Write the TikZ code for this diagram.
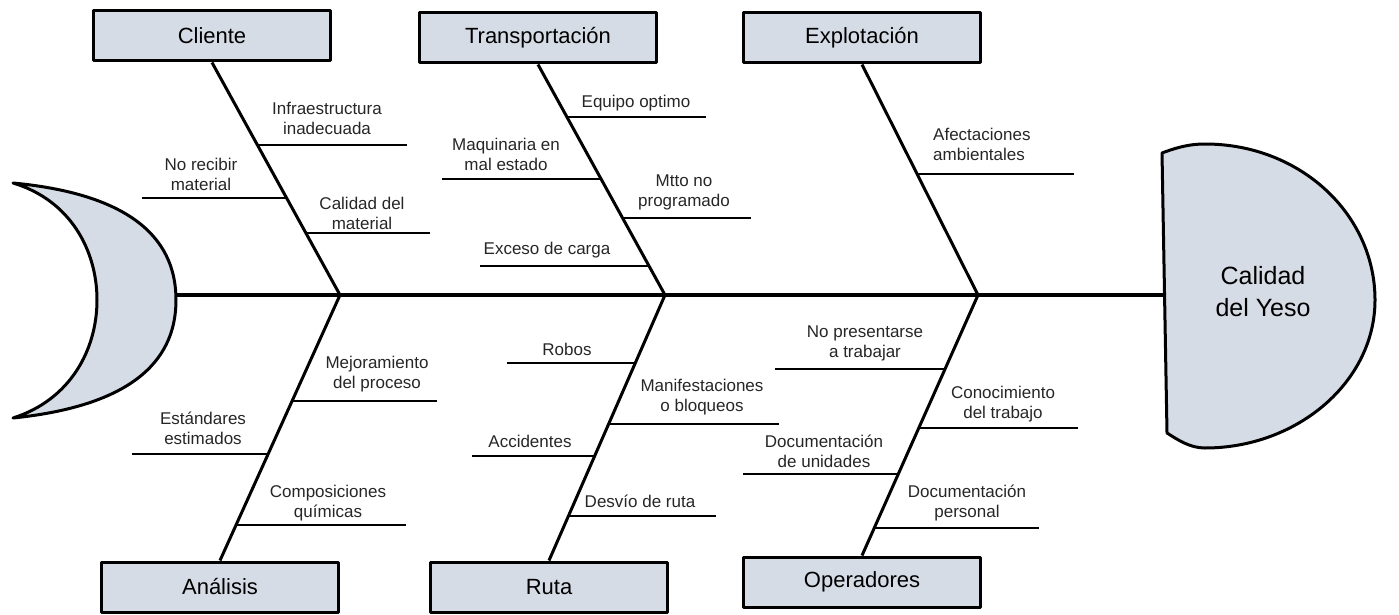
\documentclass[tikz,border=0pt]{standalone}
\usepackage{fontspec}
\setmainfont{Liberation Sans}

\definecolor{relleno}{RGB}{214,220,229}
\tikzset{
  caja/.style={draw=black, line width=3pt, fill=relleno, minimum width=237pt,
    minimum height=50pt, font=\fontsize{22}{26}\selectfont},
  hueso/.style={line width=3pt},
  rama/.style={line width=2pt},
  causa/.style={align=center, text=black!85, inner sep=0pt,
    font=\fontsize{17}{20}\selectfont},
}

\begin{document}
\begin{tikzpicture}[x=1pt,y=-1pt,line join=round]
\useasboundingbox (0,0) rectangle (1399,615);

%cola del pescado
\draw[line width=3pt, fill=relleno] (13,183) .. controls (140,195) and (176,245) .. (176,300)
  .. controls (176,355) and (140,405) .. (13,418)
  .. controls (70,400) and (97,350) .. (97,300)
  .. controls (97,250) and (70,200) .. (13,183) -- cycle;

%cabeza con el efecto
\draw[line width=3pt, fill=relleno] (1167,433) -- (1162,153)
  .. controls (1178,147) and (1190,144) .. (1205,144)
  .. controls (1300,144) and (1375,214) .. (1375,300)
  .. controls (1375,382) and (1297,448) .. (1205,448)
  .. controls (1190,448) and (1178,440) .. (1167,433) -- cycle;
\node[align=center, font=\fontsize{25}{32}\selectfont] (efecto) at (1263,292) {Calidad\\del Yeso};

%espina central
\coordinate (cola) at (176,295);
\coordinate (cabeza) at (1163,295);
\coordinate (j1) at (340,295);
\coordinate (j2) at (665,295);
\coordinate (j3) at (978,295);
\draw[line width=3.8pt] (cola) -- (cabeza);

%categorias
\node[caja] (cliente) at (212,36) {Cliente};
\node[caja] (transporte) at (538,38) {Transportación};
\node[caja] (explotacion) at (862,38) {Explotación};
\node[caja] (analisis) at (220,587) {Análisis};
\node[caja] (ruta) at (549,587) {Ruta};
\node[caja] (operadores) at (862,582) {Operadores};

%huesos hacia la espina
\draw[hueso] (cliente.south) -- (j1) -- (analisis.north);
\draw[hueso] (transporte.south) -- (j2) -- (ruta.north);
\draw[hueso] (explotacion.south) -- (j3) -- (operadores.north);

%ramas de cada hueso
\foreach \n/\y/\l in {c1/145/150, c2/198/-145, c3/233/124}
  \draw[rama] (intersection of cliente.south--j1 and 0,\y--1,\y) coordinate (\n) -- ++(\l,0);
\foreach \n/\y/\l in {t1/117/139, t2/179/-159, t3/218/128, t4/266/-169}
  \draw[rama] (intersection of transporte.south--j2 and 0,\y--1,\y) coordinate (\n) -- ++(\l,0);
\foreach \n/\y/\l in {e1/174/157}
  \draw[rama] (intersection of explotacion.south--j3 and 0,\y--1,\y) coordinate (\n) -- ++(\l,0);
\foreach \n/\y/\l in {a1/401/145, a2/454/-136, a3/525/170}
  \draw[rama] (intersection of analisis.north--j1 and 0,\y--1,\y) coordinate (\n) -- ++(\l,0);
\foreach \n/\y/\l in {r1/363/-128, r2/424/170, r3/456/-123, r4/516/148}
  \draw[rama] (intersection of ruta.north--j2 and 0,\y--1,\y) coordinate (\n) -- ++(\l,0);
\foreach \n/\y/\l in {o1/369/-170, o2/428/159, o3/474/-155, o4/528/165}
  \draw[rama] (intersection of operadores.north--j3 and 0,\y--1,\y) coordinate (\n) -- ++(\l,0);

%textos de las causas
\node[causa] (infra) at (327,118) {Infraestructura\\inadecuada};
\node[causa] (norecibir) at (201,174) {No recibir\\material};
\node[causa] (calmat) at (362,213) {Calidad del\\material};
\node[causa] (equipo) at (636,103) {Equipo optimo};
\node[causa] (maquinaria) at (506,154) {Maquinaria en\\mal estado};
\node[causa] (mtto) at (684,192) {Mtto no\\programado};
\node[causa] (exceso) at (547,250) {Exceso de carga};
\node[causa, align=left, anchor=west] (afecta) at (933,144) {Afectaciones\\ambientales};
\node[causa] (mejora) at (377,374) {Mejoramiento\\del proceso};
\node[causa] (estandar) at (203,428) {Estándares\\estimados};
\node[causa] (compos) at (328,503) {Composiciones\\químicas};
\node[causa] (robos) at (567,349) {Robos};
\node[causa] (manif) at (702,397) {Manifestaciones\\o bloqueos};
\node[causa] (accid) at (530,441) {Accidentes};
\node[causa] (desvio) at (640,501) {Desvío de ruta};
\node[causa] (nopres) at (865,343) {No presentarse\\a trabajar};
\node[causa] (conoc) at (1003,404) {Conocimiento\\del trabajo};
\node[causa] (docuni) at (824,451) {Documentación\\de unidades};
\node[causa] (docper) at (967,503) {Documentación\\personal};

\end{tikzpicture}
\end{document}
